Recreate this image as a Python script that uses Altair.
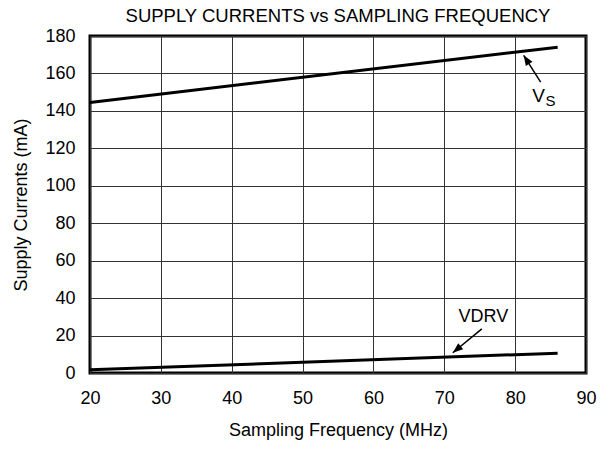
import math
import altair as alt
import pandas as pd

# ---- data ----
freq = [20, 86]
vs_current = [144.5, 174.0]
vdrv_current = [1.7, 10.6]

x_ticks = [20, 30, 40, 50, 60, 70, 80, 90]
y_ticks = [0, 20, 40, 60, 80, 100, 120, 140, 160, 180]

# annotation arrows (data coordinates)
arrow_tail_x = [83.6, 75.3]
arrow_tail_y = [155.4, 23.6]
arrow_tip_x = [81.2, 71.2]
arrow_tip_y = [169.7, 10.8]

# annotation labels (data coordinates)
vs_label_x = [82.4]
vs_label_y = [144.9]
vs_sub_x = [84.3]
vs_sub_y = [142.8]
vdrv_label_x = [72.0]
vdrv_label_y = [27.0]

FONT = "Liberation Sans"
W, H = 496, 337

x_scale = alt.Scale(domain=[20, 90], nice=False)
y_scale = alt.Scale(domain=[0, 180], nice=False)

lines_df = pd.DataFrame({
    "f": freq * 2,
    "i": vs_current + vdrv_current,
    "s": ["Vs"] * len(freq) + ["VDRV"] * len(freq),
})

sx = W / (x_scale.domain[1] - x_scale.domain[0])
sy = H / (y_scale.domain[1] - y_scale.domain[0])
angles = [
    math.degrees(math.atan2((tx - ax) * sx, (ty - ay) * sy)) % 360
    for ax, ay, tx, ty in zip(arrow_tail_x, arrow_tail_y, arrow_tip_x, arrow_tip_y)
]
arrows_df = pd.DataFrame({
    "x": arrow_tail_x, "y": arrow_tail_y,
    "x2": arrow_tip_x, "y2": arrow_tip_y,
    "ang": angles,
})

x_axis = alt.Axis(values=x_ticks, title="Sampling Frequency (MHz)", grid=True,
                  ticks=False, domain=False, labelPadding=16, titleY=62.5,
                  titleBaseline="alphabetic", labelFlush=False, labelOverlap=False)
y_axis = alt.Axis(values=y_ticks, title="Supply Currents (mA)", grid=True,
                  ticks=False, domain=False, labelPadding=15, titleX=-64,
                  titleY=H / 2, titleBaseline="alphabetic", titleAlign="center",
                  titleAngle=270, labelFlush=False, labelOverlap=False)


def X(field):
    return alt.X(field, scale=x_scale, axis=x_axis)


def Y(field):
    return alt.Y(field, scale=y_scale, axis=y_axis)


base_lines = alt.Chart(lines_df).mark_line(color="black", strokeWidth=3).encode(
    x=X("f:Q"), y=Y("i:Q"), detail="s:N",
)

shafts = alt.Chart(arrows_df).mark_rule(color="black", strokeWidth=1.5).encode(
    x=X("x:Q"), y=Y("y:Q"), x2="x2:Q", y2="y2:Q",
)

heads = alt.Chart(arrows_df).mark_point(
    shape="M0,0L0.38,1L-0.38,1Z", filled=True, color="black", opacity=1, size=420,
).encode(
    x=X("x2:Q"), y=Y("y2:Q"), angle=alt.Angle("ang:Q", scale=None),
)


def label(xs, ys, txt, size):
    df = pd.DataFrame({"x": xs, "y": ys, "t": [txt] * len(xs)})
    return alt.Chart(df).mark_text(
        font=FONT, fontSize=size, color="black", align="left", baseline="alphabetic"
    ).encode(x=X("x:Q"), y=Y("y:Q"), text="t:N")


chart = alt.layer(
    base_lines, shafts, heads,
    label(vs_label_x, vs_label_y, "V", 19),
    label(vs_sub_x, vs_sub_y, "S", 15),
    label(vdrv_label_x, vdrv_label_y, "VDRV", 18),
).properties(
    width=W, height=H,
    title=alt.TitleParams(
        "SUPPLY CURRENTS vs SAMPLING FREQUENCY", font=FONT, fontSize=18.5,
        fontWeight="normal", color="black", anchor="middle", frame="group",
        offset=2,
    ),
    autosize=alt.AutoSizeParams(type="none"),
    padding={"left": 82, "top": 28, "right": 19, "bottom": 68},
).configure_view(
    stroke="black", strokeWidth=3
).configure_axis(
    labelFont=FONT, labelFontSize=18, labelColor="black",
    titleFont=FONT, titleFontSize=18, titleColor="black", titleFontWeight="normal",
    gridColor="#333333", gridWidth=1, gridOpacity=1, labelOverlap=False,
)

chart.save("out.html", embed_options={"renderer": "svg", "actions": False})
